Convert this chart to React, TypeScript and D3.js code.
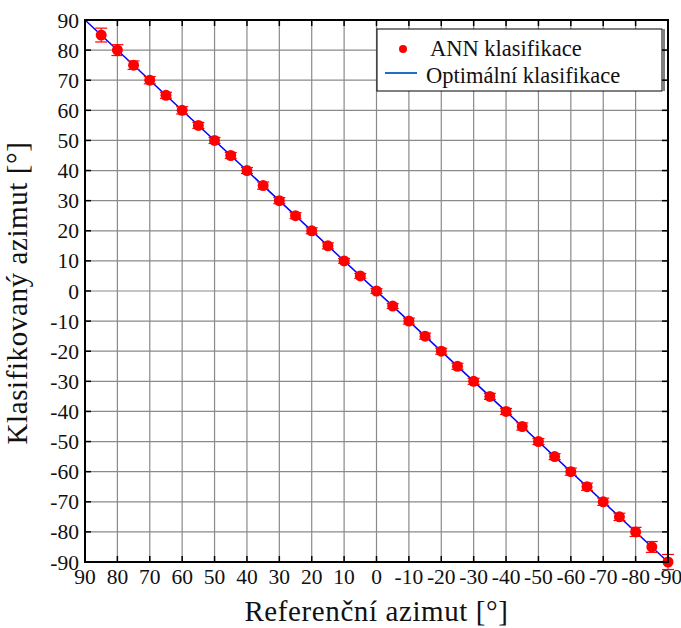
import React from 'react';
import * as d3 from 'd3';

// Reference azimuth (deg) of each test position
const referenceAzimuth = [85, 80, 75, 70, 65, 60, 55, 50, 45, 40, 35, 30, 25, 20, 15, 10, 5, 0,
  -5, -10, -15, -20, -25, -30, -35, -40, -45, -50, -55, -60, -65, -70, -75, -80, -85, -90];
// Mean classified azimuth from the ANN
const classifiedAzimuth = [85, 80, 75, 70, 65, 60, 55, 50, 45, 40, 35, 30, 25, 20, 15, 10, 5, 0,
  -5, -10, -15, -20, -25, -30, -35, -40, -45, -50, -55, -60, -65, -70, -75, -80, -85, -90];
// Error bar half-range
const classifiedError = [2.3, 1.8, 1.4, 1.2, 1.0, 1.2, 1.0, 1.0, 1.0, 1.0, 1.2, 1.0, 1.0, 1.0, 1.0, 0.8, 0.8, 0.8,
  0.8, 1.0, 1.0, 1.0, 1.0, 1.0, 1.0, 1.0, 1.2, 1.0, 1.0, 1.2, 1.2, 1.2, 1.2, 1.5, 1.8, 2.5];
const optimalLine = [90, -90];
const xTicks = [90, 80, 70, 60, 50, 40, 30, 20, 10, 0, -10, -20, -30, -40, -50, -60, -70, -80, -90];
const yTicks = [90, 80, 70, 60, 50, 40, 30, 20, 10, 0, -10, -20, -30, -40, -50, -60, -70, -80, -90];

const FONT = "'Liberation Serif', 'Times New Roman', 'DejaVu Serif', serif";

export default function App() {
  const width = 681;
  const height = 628;
  const left = 85, right = 668, top = 20, bottom = 562;

  const x = d3.scaleLinear().domain([90, -90]).range([left, right]);
  const y = d3.scaleLinear().domain([-90, 90]).range([bottom, top]);

  const line = d3.line<number>().x(d => x(d)).y(d => y(d));
  const txt = { fontFamily: FONT };

  return (
    <svg width={width} height={height}
      style={{ position: 'absolute', left: 0, top: 0, background: '#fff' }}>
      {/* grid */}
      {xTicks.map(t => (
        <line key={'gx' + t} x1={x(t)} x2={x(t)} y1={top} y2={bottom} stroke="#8a8a8a" strokeWidth={1.2} />
      ))}
      {yTicks.map(t => (
        <line key={'gy' + t} x1={left} x2={right} y1={y(t)} y2={y(t)} stroke="#8a8a8a" strokeWidth={1.2} />
      ))}

      {/* ticks, pointing inward */}
      {xTicks.map(t => (
        <g key={'tx' + t}>
          <line x1={x(t)} x2={x(t)} y1={bottom} y2={bottom - 6} stroke="#000" strokeWidth={1.5} />
          <line x1={x(t)} x2={x(t)} y1={top} y2={top + 6} stroke="#000" strokeWidth={1.5} />
        </g>
      ))}
      {yTicks.map(t => (
        <g key={'ty' + t}>
          <line x1={left} x2={left + 6} y1={y(t)} y2={y(t)} stroke="#000" strokeWidth={1.5} />
          <line x1={right} x2={right - 6} y1={y(t)} y2={y(t)} stroke="#000" strokeWidth={1.5} />
        </g>
      ))}

      {/* optimal classification */}
      <path d={line(optimalLine) || ''} stroke="#0000ff" strokeWidth={1.5} fill="none" />

      {/* ANN classification with error bars */}
      {referenceAzimuth.map((r, i) => {
        const cx = x(r);
        const m = classifiedAzimuth[i];
        const e = classifiedError[i];
        return (
          <g key={'p' + r}>
            <line x1={cx} x2={cx} y1={y(m + e)} y2={y(m - e)} stroke="#ff0000" strokeWidth={1} />
            <line x1={cx - 6} x2={cx + 6} y1={y(m + e)} y2={y(m + e)} stroke="#ff0000" strokeWidth={1.2} />
            <line x1={cx - 6} x2={cx + 6} y1={y(m - e)} y2={y(m - e)} stroke="#ff0000" strokeWidth={1.2} />
            <circle cx={cx} cy={y(m)} r={5.5} fill="#ff0000" />
          </g>
        );
      })}

      {/* frame */}
      <rect x={left} y={top} width={right - left} height={bottom - top} fill="none" stroke="#000" strokeWidth={2} />

      {/* tick labels */}
      {xTicks.map(t => (
        <text key={'lx' + t} x={x(t)} y={584} textAnchor="middle" fontSize={21.5} fill="#111" style={txt}>{t}</text>
      ))}
      {yTicks.map(t => (
        <text key={'ly' + t} x={79} y={y(t)} dy="0.35em" textAnchor="end" fontSize={21.5} fill="#111" style={txt}>{t}</text>
      ))}

      {/* axis titles */}
      <text x={(left + right) / 2} y={621} textAnchor="middle" fontSize={29} letterSpacing={0.6} fill="#111" style={txt}>Referenční azimut [°]</text>
      <text transform={`translate(27, 293) rotate(-90)`} textAnchor="middle" fontSize={29} letterSpacing={0.6} fill="#111" style={txt}>
        Klasifikovaný azimut [°]
      </text>

      {/* legend */}
      <rect x={377} y={29} width={285} height={62} fill="#fff" stroke="#000" strokeWidth={1} />
      <line x1={664} x2={664} y1={29} y2={91} stroke="#000" strokeWidth={1} />
      <circle cx={403} cy={49} r={4} fill="#ff0000" />
      <text x={430} y={56} fontSize={22.5} fill="#111" style={txt}>ANN klasifikace</text>
      <line x1={385} x2={417} y1={73} y2={73} stroke="#1f6fc4" strokeWidth={2} />
      <text x={426} y={83} fontSize={22.5} fill="#111" style={txt}>Optimální klasifikace</text>
    </svg>
  );
}
